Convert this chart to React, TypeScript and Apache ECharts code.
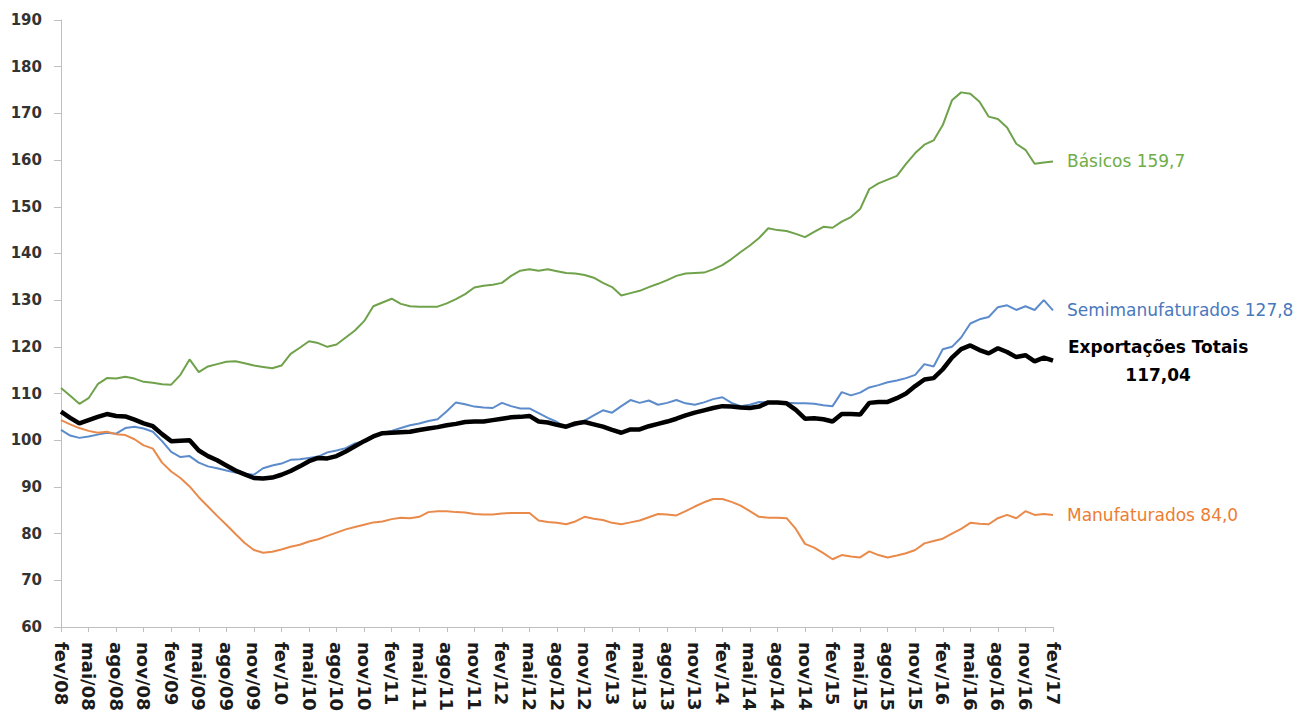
import React, { useEffect, useRef } from "react";
import * as echarts from "echarts";

const MONTH_ABBR = ["jan", "fev", "mar", "abr", "mai", "jun", "jul", "ago", "set", "out", "nov", "dez"];
const START_MONTH = 1; // fev
const START_YEAR = 2008;
const N_MONTHS = 109; // fev/08 .. fev/17

const categories: string[] = Array.from({ length: N_MONTHS }, (_, i) => {
  const m = (START_MONTH + i) % 12;
  const y = START_YEAR + Math.floor((START_MONTH + i) / 12);
  return `${MONTH_ABBR[m]}/${String(y % 100).padStart(2, "0")}`;
});

const basicos = [
  111.2, 109.5, 107.8, 109, 112, 113.3, 113.2, 113.6, 113.2, 112.5,
  112.3, 112, 111.9, 114, 117.3, 114.6, 115.8, 116.3, 116.8, 116.9,
  116.5, 116, 115.7, 115.4, 116, 118.5, 119.8, 121.2, 120.8, 120,
  120.5, 122, 123.5, 125.5, 128.7, 129.5, 130.3, 129.2, 128.7, 128.6,
  128.6, 128.6, 129.3, 130.2, 131.3, 132.7, 133.1, 133.3, 133.7, 135.2,
  136.3, 136.6, 136.3, 136.6, 136.2, 135.8, 135.7, 135.4, 134.8, 133.7,
  132.8, 131, 131.5, 132, 132.8, 133.5, 134.3, 135.2, 135.7, 135.8,
  135.9, 136.6, 137.5, 138.8, 140.3, 141.7, 143.3, 145.4, 145, 144.8,
  144.2, 143.5, 144.6, 145.7, 145.5, 146.8, 147.8, 149.5, 153.8, 155,
  155.8, 156.6, 159.2, 161.5, 163.3, 164.2, 167.5, 172.8, 174.5, 174.2,
  172.5, 169.3, 168.8, 167, 163.5, 162.2, 159.2, 159.5, 159.7,
];

const semimanufaturados = [
  102.2, 101, 100.5, 100.8, 101.2, 101.6, 101.4, 102.6, 102.9, 102.5,
  101.8, 99.8, 97.5, 96.4, 96.6, 95.2, 94.4, 94, 93.5, 93.1,
  92.8, 92.6, 94, 94.6, 95, 95.8, 95.9, 96.2, 96.5, 97.4,
  97.8, 98.3, 99.3, 99.8, 100.6, 101.6, 102, 102.6, 103.2, 103.6,
  104.1, 104.5, 106.2, 108.1, 107.7, 107.2, 107, 106.9, 108, 107.3,
  106.8, 106.8, 105.8, 104.8, 103.9, 102.8, 103.2, 104.2, 105.3, 106.4,
  105.9, 107.3, 108.6, 108, 108.5, 107.6, 108, 108.6, 107.9, 107.6,
  108.1, 108.8, 109.2, 108, 107.3, 107.6, 108.2, 108.1, 108, 108,
  107.9, 107.9, 107.8, 107.5, 107.3, 110.3, 109.6, 110.2, 111.3, 111.8,
  112.4, 112.8, 113.3, 114, 116.3, 115.8, 119.5, 120, 122, 125,
  125.9, 126.4, 128.5, 128.9, 127.9, 128.7, 127.9, 130, 127.8,
];

const totais = [
  106.1, 104.8, 103.6, 104.3, 105, 105.6, 105.2, 105.1, 104.4, 103.6,
  103, 101.3, 99.8, 99.9, 100, 97.8, 96.6, 95.7, 94.6, 93.5,
  92.7, 91.9, 91.8, 92, 92.6, 93.4, 94.4, 95.5, 96.2, 96.1,
  96.6, 97.6, 98.7, 99.8, 100.8, 101.5, 101.6, 101.7, 101.8, 102.2,
  102.5, 102.8, 103.2, 103.5, 103.9, 104, 104, 104.3, 104.6, 104.9,
  105, 105.2, 104, 103.8, 103.3, 102.9, 103.6, 103.9, 103.4, 102.9,
  102.2, 101.6, 102.3, 102.3, 103, 103.5, 104, 104.6, 105.3, 105.9,
  106.4, 106.9, 107.3, 107.2, 107, 106.9, 107.2, 108.1, 108.1, 107.9,
  106.5, 104.6, 104.7, 104.5, 104, 105.6, 105.6, 105.5, 108, 108.2,
  108.2, 109, 110, 111.6, 113, 113.3, 115.2, 117.7, 119.5, 120.3,
  119.3, 118.6, 119.7, 118.9, 117.8, 118.2, 116.9, 117.7, 117.04,
];

const manufaturados = [
  104.3, 103.4, 102.6, 102, 101.6, 101.8, 101.3, 101.1, 100.2, 98.9,
  98.2, 95.2, 93.3, 91.9, 90.1, 87.8, 85.8, 83.8, 81.9, 79.9,
  78, 76.5, 75.9, 76.1, 76.6, 77.2, 77.6, 78.3, 78.8, 79.5,
  80.2, 80.9, 81.4, 81.9, 82.4, 82.6, 83.1, 83.4, 83.3, 83.6,
  84.6, 84.8, 84.8, 84.6, 84.5, 84.2, 84.1, 84.1, 84.3, 84.4,
  84.4, 84.4, 82.8, 82.5, 82.3, 82, 82.6, 83.6, 83.2, 82.9,
  82.3, 82, 82.4, 82.8, 83.5, 84.2, 84.1, 83.9, 84.8, 85.8,
  86.7, 87.4, 87.4, 86.8, 86, 84.8, 83.6, 83.4, 83.4, 83.3,
  81, 77.8, 77, 75.8, 74.5, 75.4, 75.1, 74.9, 76.2, 75.4,
  74.9, 75.3, 75.8, 76.5, 77.9, 78.4, 78.9, 80, 81, 82.3,
  82.1, 82, 83.3, 84, 83.3, 84.8, 84, 84.2, 84,
];

const FONT = "DejaVu Sans";
const fmt = (v: number, d: number) => v.toFixed(d).replace(".", ",");

export default function App() {
  const ref = useRef<HTMLDivElement>(null);

  useEffect(() => {
    if (!ref.current) return;
    const chart = echarts.init(ref.current, null, { renderer: "svg" });

    const simpleEndLabel = (name: string, color: string, last: number, dec: number) => ({
      show: true,
      formatter: `${name} ${fmt(last, dec)}`,
      color,
      fontFamily: FONT,
      fontSize: 17,
      distance: 14,
    });

    chart.setOption({
      animation: false,
      backgroundColor: "#ffffff",
      grid: { left: 61, right: 248, top: 20, bottom: 87, containLabel: false },
      xAxis: {
        type: "category",
        data: categories,
        boundaryGap: false,
        axisLine: { show: true, lineStyle: { color: "#BFBFBF", width: 1 } },
        axisTick: { show: true, interval: 2, length: 5, lineStyle: { color: "#BFBFBF" } },
        axisLabel: {
          interval: 2,
          rotate: -90,
          margin: 15,
          color: "#1a1a1a",
          fontFamily: FONT,
          fontWeight: "bold",
          fontSize: 18,
        },
        splitLine: { show: false },
      },
      yAxis: {
        type: "value",
        min: 60,
        max: 190,
        interval: 10,
        axisLine: { show: true, lineStyle: { color: "#BFBFBF", width: 1 } },
        axisTick: { show: true, length: 7, lineStyle: { color: "#BFBFBF" } },
        axisLabel: {
          margin: 19,
          color: "#333333",
          fontFamily: FONT,
          fontWeight: "bold",
          fontSize: 15,
        },
        splitLine: { show: false },
      },
      series: [
        {
          name: "Básicos",
          type: "line",
          data: basicos,
          showSymbol: false,
          symbol: "none",
          lineStyle: { color: "#6FA24B", width: 2 },
          itemStyle: { color: "#6FA24B" },
          endLabel: simpleEndLabel("Básicos", "#70AD47", basicos[basicos.length - 1], 1),
          z: 2,
        },
        {
          name: "Semimanufaturados",
          type: "line",
          data: semimanufaturados,
          showSymbol: false,
          symbol: "none",
          lineStyle: { color: "#5B8BCB", width: 2 },
          itemStyle: { color: "#5B8BCB" },
          endLabel: simpleEndLabel("Semimanufaturados", "#4A78BD", semimanufaturados[semimanufaturados.length - 1], 1),
          z: 3,
        },
        {
          name: "Manufaturados",
          type: "line",
          data: manufaturados,
          showSymbol: false,
          symbol: "none",
          lineStyle: { color: "#E98A4B", width: 2 },
          itemStyle: { color: "#E98A4B" },
          endLabel: simpleEndLabel("Manufaturados", "#ED7D31", manufaturados[manufaturados.length - 1], 1),
          z: 3,
        },
        {
          name: "Exportações Totais",
          type: "line",
          data: totais,
          showSymbol: false,
          symbol: "none",
          lineStyle: { color: "#000000", width: 4.5 },
          itemStyle: { color: "#000000" },
          endLabel: {
            show: true,
            distance: 15,
            formatter: `{a|Exportações Totais}\n{a|${fmt(totais[totais.length - 1], 2)}}`,
            rich: {
              a: {
                align: "center",
                color: "#000000",
                fontFamily: FONT,
                fontWeight: "bold",
                fontSize: 17,
                lineHeight: 28,
              },
            },
          },
          z: 5,
        },
      ],
    });

    return () => chart.dispose();
  }, []);

  return (
    <div
      ref={ref}
      style={{ position: "fixed", left: 0, top: 0, width: 1301, height: 714, background: "#fff" }}
    />
  );
}
